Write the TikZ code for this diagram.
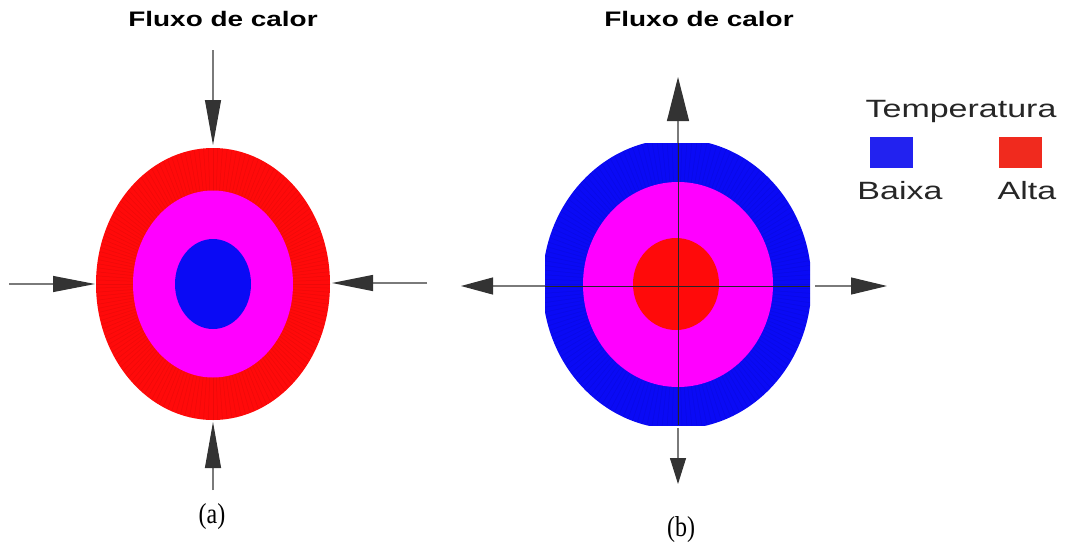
\documentclass[tikz,border=0pt]{standalone}
\usepackage{fontspec}
\setmainfont{Liberation Sans}
\newfontfamily\timesfont{Liberation Serif}
\usetikzlibrary{arrows.meta}
\definecolor{ringred}{HTML}{FF0A0A}
\definecolor{ringmag}{HTML}{FF00FF}
\definecolor{ringblue}{HTML}{0A0AF5}
\definecolor{axisgray}{HTML}{7A7A7A}
\definecolor{headgray}{HTML}{333333}
\definecolor{legblue}{HTML}{2222F0}
\definecolor{legred}{HTML}{F02A1E}
\tikzset{
  flowline/.style={draw=axisgray, line width=1.1pt},
  flowarrow/.style 2 args={flowline, -{Triangle[length=#1, width=#2, color=headgray]}},
  axisdark/.style={draw=black!85, line width=1pt},
  titletext/.style={font=\fontsize{21}{24}\selectfont\bfseries, xscale=1.33, anchor=base, inner sep=0pt},
  legtext/.style={font=\fontsize{25}{28}\selectfont, text=black!85, xscale=1.36, anchor=base, inner sep=0pt},
  captext/.style={font=\timesfont\fontsize{24}{26}\selectfont, yscale=1.2, anchor=center, inner sep=0pt},
  legbox/.style={minimum width=43pt, minimum height=31pt, inner sep=0pt},
  stripes/.style={black, opacity=0.07, line width=0.5pt}
}
\begin{document}
\begin{tikzpicture}[x=1pt,y=-1pt]
\useasboundingbox (0,0) rectangle (1070,549);
\fill[white] (0,0) rectangle (1070,549);

% ---------- (a) ----------
\coordinate (ca) at (213,284);
\fill[ringred] (ca) ellipse [x radius=117pt, y radius=136pt];
\begin{scope}
  \clip (ca) ellipse [x radius=117pt, y radius=136pt];
  \foreach \a in {0,2,...,358} \draw[stripes] (ca) -- ++(\a:160pt);
\end{scope}
\fill[ringmag] (ca) ellipse [x radius=80pt, y radius=93.5pt];
\fill[ringblue] (ca) ellipse [x radius=38pt, y radius=45pt];

\coordinate (aT0) at (213,50);   \coordinate (aT1) at (213,145);
\coordinate (aB0) at (213,490);  \coordinate (aB1) at (213,422);
\coordinate (aL0) at (9,284);    \coordinate (aL1) at (95,284);
\coordinate (aR0) at (427,283);  \coordinate (aR1) at (332,283);
\draw[flowarrow={45pt}{16pt}] (aT0) -- (aT1);
\draw[flowarrow={46pt}{16pt}] (aB0) -- (aB1);
\draw[flowarrow={42pt}{16pt}] (aL0) -- (aL1);
\draw[flowarrow={41pt}{16pt}] (aR0) -- (aR1);

\node[titletext] (ta) at (223,26) {Fluxo de calor};
\node[captext] (la) at (212,517) {(a)};

% ---------- (b) ----------
\coordinate (cb) at (677,284);
\begin{scope}
  \clip (545,143) rectangle (810,425);
  \fill[ringblue] (cb) ellipse [x radius=134.5pt, y radius=145pt];
  \clip (cb) ellipse [x radius=134.5pt, y radius=145pt];
  \foreach \a in {0,2,...,358} \draw[stripes] (cb) -- ++(\a:170pt);
\end{scope}
\fill[ringmag] (678,284.5) ellipse [x radius=95pt, y radius=102.5pt];
\fill[ringred] (676,284) ellipse [x radius=43pt, y radius=46pt];

\coordinate (bT0) at (678,143);  \coordinate (bT1) at (678,77);
\coordinate (bB0) at (678,428);  \coordinate (bB1) at (678,484);
\coordinate (bL0) at (545,286);  \coordinate (bL1) at (461,286);
\coordinate (bR0) at (815,286);  \coordinate (bR1) at (887,286);
\draw[flowarrow={44pt}{22pt}] (bT0) -- (bT1);
\draw[flowarrow={26pt}{16pt}] (bB0) -- (bB1);
\draw[flowarrow={32pt}{17pt}] (bL0) -- (bL1);
\draw[flowarrow={36pt}{17pt}] (bR0) -- (bR1);
\coordinate (bV0) at (678,143);  \coordinate (bV1) at (678,425);
\coordinate (bH0) at (545,286);  \coordinate (bH1) at (810,286);
\draw[axisdark] (bV0) -- (bV1);
\draw[axisdark] (bH0) -- (bH1);

\node[titletext] (tb) at (699,26) {Fluxo de calor};
\node[captext] (lb) at (681,530) {(b)};

% ---------- legend ----------
\node[legtext] (legt) at (961,117) {Temperatura};
\node[legbox, fill=legblue] (lowbox) at (891.5,152.5) {};
\node[legbox, fill=legred] (highbox) at (1020.5,152.5) {};
\node[legtext] (lowt) at (900,199) {Baixa};
\node[legtext] (hight) at (1027,199) {Alta};
\end{tikzpicture}
\end{document}
